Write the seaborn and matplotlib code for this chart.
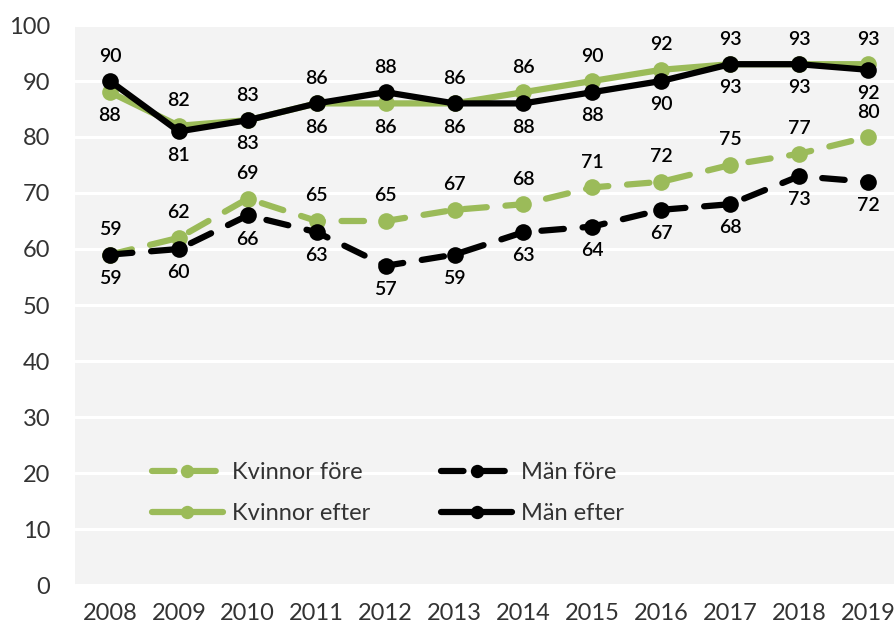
import matplotlib
matplotlib.use("Agg")
import matplotlib.pyplot as plt
import seaborn as sns
import pandas as pd

# ---- data ----
years = [2008, 2009, 2010, 2011, 2012, 2013, 2014, 2015, 2016, 2017, 2018, 2019]
kvinnor_fore = [59, 62, 69, 65, 65, 67, 68, 71, 72, 75, 77, 80]
man_fore = [59, 60, 66, 63, 57, 59, 63, 64, 67, 68, 73, 72]
kvinnor_efter = [88, 82, 83, 86, 86, 86, 88, 90, 92, 93, 93, 93]
man_efter = [90, 81, 83, 86, 88, 86, 86, 88, 90, 93, 93, 92]
# data labels as printed in the chart for the "efter" pair (upper / lower label)
efter_label_top = [90, 82, 83, 86, 88, 86, 86, 90, 92, 93, 93, 93]
efter_label_bottom = [88, 81, 83, 86, 86, 86, 88, 88, 90, 93, 93, 92]
series_names = ["Kvinnor före", "Män före", "Kvinnor efter", "Män efter"]
y_ticks = list(range(0, 101, 10))

GREEN = "#9bbb59"
BLACK = "#000000"
BG = "#f3f3f3"
TXT = "#333333"

sns.set_theme(style="white")
plt.rcParams["font.family"] = ["Lato", "DejaVu Sans"]

fig = plt.figure(figsize=(8.95, 6.3), dpi=100)
fig.patch.set_facecolor("white")
ax = fig.add_axes([75.5 / 895, 45 / 630, 827 / 895, 560 / 630])
ax.set_facecolor(BG)

df = pd.DataFrame({
    "year": years * 4,
    "value": kvinnor_fore + man_fore + kvinnor_efter + man_efter,
    "series": sum([[n] * len(years) for n in series_names], []),
})

styles = {
    "Kvinnor före": (GREEN, True),
    "Män före": (BLACK, True),
    "Kvinnor efter": (GREEN, False),
    "Män efter": (BLACK, False),
}

handles = {}
for name in series_names:
    color, dashed = styles[name]
    sub = df[df["series"] == name]
    n_before = len(ax.lines)
    sns.lineplot(data=sub, x="year", y="value", ax=ax, color=color,
                 marker="o", markersize=12, markeredgewidth=0,
                 linewidth=4.5, solid_capstyle="round", zorder=3, legend=False)
    line = ax.lines[n_before]
    if dashed:
        line.set_dashes((3.6, 3.0))
        line.set_dash_capstyle("round")
    handles[name] = line

# grid
ax.set_ylim(0, 100)
ax.set_xlim(2007.5, 2019.5)
ax.set_yticks(y_ticks)
ax.set_xticks(years)
ax.set_xticklabels([str(y) for y in years])
ax.yaxis.grid(True, color="white", linewidth=2.2)
ax.xaxis.grid(False)
ax.set_axisbelow(True)
for s in ax.spines.values():
    s.set_visible(False)
ax.tick_params(axis="y", length=0, pad=18, labelsize=17, labelcolor=TXT)
ax.tick_params(axis="x", length=0, pad=13, labelsize=17, labelcolor=TXT)
ax.set_xlabel("")
ax.set_ylabel("")

# data labels
lab_kw = dict(textcoords="offset points", ha="center", va="center",
              fontsize=14, fontweight="semibold", color="black", zorder=5)
for i, yr in enumerate(years):
    ax.annotate(str(kvinnor_fore[i]), (yr, kvinnor_fore[i]), xytext=(0, 18), **lab_kw)
    ax.annotate(str(man_fore[i]), (yr, man_fore[i]), xytext=(0, -17), **lab_kw)
    hi = max(kvinnor_efter[i], man_efter[i])
    lo = min(kvinnor_efter[i], man_efter[i])
    ax.annotate(str(efter_label_top[i]), (yr, hi), xytext=(0, 18), **lab_kw)
    ax.annotate(str(efter_label_bottom[i]), (yr, lo), xytext=(0, -17), **lab_kw)

order = ["Kvinnor före", "Kvinnor efter", "Män före", "Män efter"]
leg = ax.legend([handles[n] for n in order], order, ncol=2, loc="upper left",
                bbox_to_anchor=(140 / 895, 1 - 450 / 630), bbox_transform=fig.transFigure,
                frameon=False, fontsize=17, handlelength=3.0, handletextpad=0.4,
                columnspacing=3.0, labelspacing=0.85, borderpad=0, markerscale=0.8)
for t in leg.get_texts():
    t.set_color(TXT)

fig.savefig("out.png", dpi=100)
